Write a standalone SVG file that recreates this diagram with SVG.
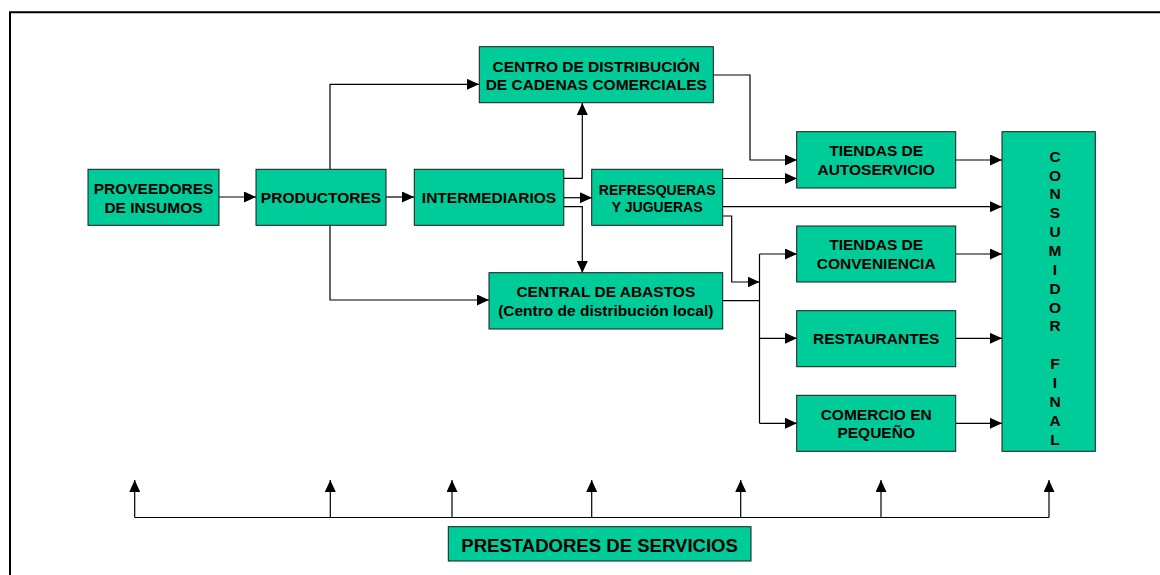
<svg xmlns="http://www.w3.org/2000/svg" width="1160" height="575" viewBox="0 0 1160 575">
<defs>
<marker id="ah" markerUnits="userSpaceOnUse" markerWidth="12" markerHeight="11" refX="12" refY="5.5" orient="auto" viewBox="0 0 12 11">
<path d="M0,0 L12,5.5 L0,11 z" fill="#000"/>
</marker>
<style>
.box{fill:#00CC99;stroke:#1a1a1a;stroke-width:1}
.t{font-family:"Liberation Sans",Arial,sans-serif;font-weight:bold;font-size:15.5px;fill:#000;text-anchor:middle}
.s{font-size:14px}
.c{stroke:#000;stroke-width:1.2;fill:none}
.a{marker-end:url(#ah)}
</style>
</defs>
<rect width="1160" height="575" fill="#fff"/>
<path d="M10,575 V12.3 H1160" fill="none" stroke="#000" stroke-width="2"/>

<g id="connectors">
<path class="c a" d="M219,197 H256"/>
<path class="c a" d="M386,197 H414"/>
<path class="c a" d="M330,169 V84.3 H479"/>
<path class="c a" d="M330,225 V300 H489"/>
<path class="c a" d="M564,178.3 H582.3 V103"/>
<path class="c a" d="M564,197.7 H592"/>
<path class="c a" d="M564,206.7 H582.3 V273"/>
<path class="c a" d="M713,75 H750 V160 H797"/>
<path class="c a" d="M723,178.5 H797"/>
<path class="c a" d="M723,206.7 H1002"/>
<path class="c a" d="M723,216 H731.7 V282 H759.5"/>
<path class="c" d="M723,300.7 H759.5"/>
<path class="c" d="M759.5,254 V423.3"/>
<path class="c a" d="M759.5,254 H797"/>
<path class="c a" d="M759.5,338.3 H797"/>
<path class="c a" d="M759.5,423.3 H797"/>
<path class="c a" d="M956,160 H1002"/>
<path class="c a" d="M956,254 H1002"/>
<path class="c a" d="M956,338.3 H1002"/>
<path class="c a" d="M956,423.3 H1002"/>
<path class="c" d="M134.7,517.5 H1049"/>
<path class="c a" d="M134.7,517.5 V480"/>
<path class="c a" d="M330.3,517.5 V480"/>
<path class="c a" d="M452,517.5 V480"/>
<path class="c a" d="M591.7,517.5 V480"/>
<path class="c a" d="M740.7,517.5 V480"/>
<path class="c a" d="M881,517.5 V480"/>
<path class="c a" d="M1049,517.5 V480"/>
</g>

<g id="proveedores">
<rect class="box" x="88" y="169.3" width="131" height="56"/>
<text class="t" x="153.5" y="194.4">PROVEEDORES</text>
<text class="t" x="153.5" y="213">DE INSUMOS</text>
</g>
<g id="productores">
<rect class="box" x="256" y="169.3" width="130" height="56"/>
<text class="t" x="321" y="203.3">PRODUCTORES</text>
</g>
<g id="intermediarios">
<rect class="box" x="414.3" y="169.3" width="149.5" height="56"/>
<text class="t" x="489" y="203.3">INTERMEDIARIOS</text>
</g>
<g id="centro-distribucion">
<rect class="box" x="479.3" y="46.7" width="234" height="56"/>
<text class="t" x="596.3" y="72.4">CENTRO DE DISTRIBUCIÓN</text>
<text class="t" x="596.3" y="90">DE CADENAS COMERCIALES</text>
</g>
<g id="refresqueras">
<rect class="box" x="591.7" y="169.3" width="131" height="56"/>
<text class="t s" x="657.2" y="195.1">REFRESQUERAS</text>
<text class="t s" x="657.2" y="211.8">Y JUGUERAS</text>
</g>
<g id="central-abastos">
<rect class="box" x="489" y="272.7" width="233.7" height="56.3"/>
<text class="t" x="605.8" y="297.4">CENTRAL DE ABASTOS</text>
<text class="t" x="605.8" y="315.7">(Centro de distribución local)</text>
</g>
<g id="tiendas-autoservicio">
<rect class="box" x="796.7" y="131.7" width="159" height="56.3"/>
<text class="t" x="876.2" y="156.4">TIENDAS DE</text>
<text class="t" x="876.2" y="175">AUTOSERVICIO</text>
</g>
<g id="tiendas-conveniencia">
<rect class="box" x="796.7" y="226" width="159" height="56"/>
<text class="t" x="876.2" y="250">TIENDAS DE</text>
<text class="t" x="876.2" y="268.7">CONVENIENCIA</text>
</g>
<g id="restaurantes">
<rect class="box" x="796.7" y="310.7" width="159" height="56"/>
<text class="t" x="876.2" y="344">RESTAURANTES</text>
</g>
<g id="comercio">
<rect class="box" x="796.7" y="395.3" width="159" height="56"/>
<text class="t" x="876.2" y="420">COMERCIO EN</text>
<text class="t" x="876.2" y="438">PEQUEÑO</text>
</g>
<g id="consumidor-final">
<rect class="box" x="1002" y="131.7" width="93.3" height="319.6"/>
<text class="t" x="1055" y="161.7">C</text>
<text class="t" x="1055" y="180.6">O</text>
<text class="t" x="1055" y="199.4">N</text>
<text class="t" x="1055" y="218.3">S</text>
<text class="t" x="1055" y="237.1">U</text>
<text class="t" x="1055" y="256">M</text>
<text class="t" x="1055" y="274.8">I</text>
<text class="t" x="1055" y="293.7">D</text>
<text class="t" x="1055" y="312.5">O</text>
<text class="t" x="1055" y="331.4">R</text>
<text class="t" x="1055" y="369.1">F</text>
<text class="t" x="1055" y="387.9">I</text>
<text class="t" x="1055" y="406.8">N</text>
<text class="t" x="1055" y="425.6">A</text>
<text class="t" x="1055" y="444.5">L</text>
</g>
<g id="prestadores">
<rect class="box" x="448.3" y="526.7" width="302.7" height="34.3"/>
<text class="t" x="599.6" y="551.8" style="font-size:18px" textLength="276.7" lengthAdjust="spacingAndGlyphs">PRESTADORES DE SERVICIOS</text>
</g>
</svg>
